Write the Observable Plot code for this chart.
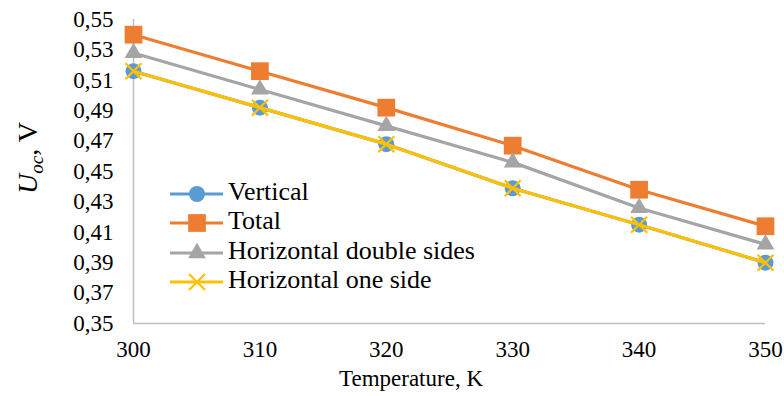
<!DOCTYPE html>
<html><head><meta charset="utf-8">
<script src="https://cdn.jsdelivr.net/npm/d3@7"></script>
<script src="https://cdn.jsdelivr.net/npm/@observablehq/plot@0.6"></script>
<style>
body{margin:0;background:#fff}
#chart svg{background:#fff}
#chart svg text{font-family:"Liberation Serif","Times New Roman",serif !important}
</style>
</head><body><div id="chart"></div>
<script>
const temperatures = [300, 310, 320, 330, 340, 350];
const vertical = [0.516, 0.492, 0.468, 0.439, 0.415, 0.390];
const total = [0.540, 0.516, 0.492, 0.467, 0.438, 0.414];
const horizontalDouble = [0.528, 0.504, 0.480, 0.456, 0.426, 0.402];
const horizontalOne = [0.516, 0.492, 0.468, 0.439, 0.415, 0.390];
const yTicks = [0.35, 0.37, 0.39, 0.41, 0.43, 0.45, 0.47, 0.49, 0.51, 0.53, 0.55];
const xTicks = [300, 310, 320, 330, 340, 350];
const seriesNames = ["Vertical", "Total", "Horizontal double sides", "Horizontal one side"];
const seriesValues = [vertical, total, horizontalDouble, horizontalOne];
const seriesColors = ["#5B9BD5", "#ED7D31", "#A5A5A5", "#FFC000"];
const seriesSymbols = ["circle", "square", "triangle", "times"];
const symbolR = [8, 10, 6.6, 7.3];

const fmt = d => d3.format(".2f")(d).replace(".", ",");
const serif = "Liberation Serif";

const marks = [
  Plot.ruleY([0.35], {stroke: "#bfbfbf", strokeWidth: 1.5}),
  Plot.ruleX([300], {stroke: "#bfbfbf", strokeWidth: 1.5}),
  Plot.axisX({ticks: xTicks, tickFormat: d => String(d), tickSize: 0, tickPadding: 17, fontSize: 23, fontFamily: serif, label: null, color: "#000"}),
  Plot.axisY({ticks: yTicks, tickFormat: fmt, tickSize: 0, tickPadding: 20, fontSize: 23, fontFamily: serif, label: null, color: "#000"})
];
seriesNames.forEach((name, i) => {
  const data = temperatures.map((t, j) => ({t, v: seriesValues[i][j]}));
  marks.push(Plot.line(data, {x: "t", y: "v", stroke: seriesColors[i], strokeWidth: 3.2}));
  const isStroke = seriesSymbols[i] === "times";
  marks.push(Plot.dot(data, {
    x: "t", y: "v", symbol: () => seriesSymbols[i], r: symbolR[i],
    fill: isStroke ? "none" : seriesColors[i],
    stroke: isStroke ? seriesColors[i] : "none",
    strokeWidth: isStroke ? 2.2 : 0
  }));
});

const chart = Plot.plot({
  width: 784, height: 396,
  marginLeft: 133, marginRight: 19, marginTop: 19, marginBottom: 73,
  x: {domain: [300, 350]},
  y: {domain: [0.35, 0.55]},
  style: {fontFamily: serif, color: "#000", background: "#fff"},
  marks
});
document.getElementById("chart").appendChild(chart);

const svg = d3.select(chart);
// x axis title
svg.append("text").attr("x", 411).attr("y", 381).attr("text-anchor", "middle")
  .attr("dominant-baseline", "middle").attr("font-size", 23).attr("fill", "#000")
  .text("Temperature, K");
// y axis title
const yl = svg.append("text").attr("transform", "translate(37,158) rotate(-90)")
  .attr("text-anchor", "middle").attr("font-size", 28).attr("fill", "#000");
yl.append("tspan").attr("font-style", "italic").text("U");
yl.append("tspan").attr("font-style", "italic").attr("font-size", 19).attr("dy", 6).text("oc");
yl.append("tspan").attr("dy", -6).text(", V");

// legend
const legendY = [194, 223, 253, 282];
seriesNames.forEach((name, i) => {
  const g = svg.append("g").attr("transform", `translate(0,${legendY[i]})`);
  g.append("line").attr("x1", 170).attr("x2", 223).attr("y1", 0).attr("y2", 0)
    .attr("stroke", seriesColors[i]).attr("stroke-width", 3.2);
  const sym = {circle: d3.symbolCircle, square: d3.symbolSquare, triangle: d3.symbolTriangle, times: d3.symbolTimes}[seriesSymbols[i]];
  const isStroke = seriesSymbols[i] === "times";
  g.append("path").attr("transform", "translate(197,0)")
    .attr("d", d3.symbol(sym, symbolR[i] * symbolR[i] * Math.PI)())
    .attr("fill", isStroke ? "none" : seriesColors[i])
    .attr("stroke", isStroke ? seriesColors[i] : "none").attr("stroke-width", isStroke ? 2.2 : 0);
  g.append("text").attr("x", 228).attr("y", 0).attr("text-anchor", "start").attr("dominant-baseline", "middle")
    .attr("font-size", 26).attr("fill", "#000").text(name);
});
</script>
</body></html>
